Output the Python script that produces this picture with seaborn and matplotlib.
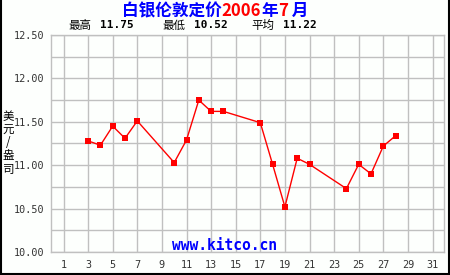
import matplotlib
matplotlib.use("Agg")
import matplotlib.pyplot as plt
import seaborn as sns
import pandas as pd
from matplotlib.lines import Line2D

days = [3, 4, 5, 6, 7, 10, 11, 12, 13, 14, 17, 18, 19, 20, 21, 24, 25, 26, 27, 28]
prices = [11.28, 11.23, 11.45, 11.31, 11.51, 11.03, 11.29, 11.75, 11.62, 11.62,
          11.49, 11.01, 10.52, 11.08, 11.01, 10.73, 11.01, 10.90, 11.22, 11.34]
x_ticks = list(range(1, 32, 2))
y_ticks = [10.00, 10.50, 11.00, 11.50, 12.00, 12.50]
stats_labels = ["最高", "最低", "平均"]
stats_values = ["11.75", "10.52", "11.22"]

df = pd.DataFrame({"day": days, "price": prices})

sns.set_theme(style="white")
plt.rcParams['font.family'] = ['Noto Sans CJK SC', 'DejaVu Sans']

W, H = 450, 275
fig = plt.figure(figsize=(4.5, 2.75), dpi=100)
fig.patch.set_facecolor("#FDFFFD")

left, right, top, bottom = 51.2, 444, 35, 252
ax = fig.add_axes([left / W, 1 - bottom / H, (right - left) / W, (bottom - top) / H])
ax.set_facecolor("#FDFFFD")

ppd = 12.3
ax.set_xlim(0, (right - left) / ppd)
ax.set_ylim(10.0, 12.5)

for xv in x_ticks:
    ax.axvline(xv, color="#C0C0C0", lw=1, zorder=1)
yv = 10.0
while yv <= 12.5001:
    ax.axhline(yv, color="#C0C0C0", lw=1, zorder=1)
    yv += 0.25

sns.lineplot(data=df, x="day", y="price", ax=ax, color="#FF0000", lw=1,
             marker="s", markersize=4.2, markeredgewidth=0, zorder=3)

ax.set_xticks(x_ticks)
ax.set_xticklabels([str(v) for v in x_ticks], family="DejaVu Sans Mono", fontsize=7.3, color="#333333")
ax.set_yticks(y_ticks)
ax.set_yticklabels([f"{v:.2f}" for v in y_ticks], family="DejaVu Sans Mono", fontsize=7.3, color="#333333")
ax.tick_params(axis="both", length=0)
ax.tick_params(axis="y", pad=5)
ax.tick_params(axis="x", pad=6)
ax.set_xlabel("")
ax.set_ylabel("")
for s in ax.spines.values():
    s.set_color("#C0C0C0")
    s.set_linewidth(1)

# Title with mixed colours
title_parts = [("白银伦敦定价", "#0000FF"), ("2006", "#FF0000"), ("年", "#0000FF"),
               ("7", "#FF0000"), (" 月", "#0000FF")]
renderer = fig.canvas.get_renderer()
xpos = 122
for txt, col in title_parts:
    t = fig.text(xpos / W, 1 - 11 / H, txt, color=col, fontsize=12, fontweight="bold",
                 va="center", ha="left", family=['Noto Sans CJK SC', 'DejaVu Sans'])
    bb = t.get_window_extent(renderer=renderer)
    xpos += bb.width

# Stats line
stat_x = [68, 162, 251]
for sx, lab, val in zip(stat_x, stats_labels, stats_values):
    fig.text(sx / W, 1 - 25 / H, lab, fontsize=8.3, va="center", ha="left", color="black")
    fig.text((sx + 32) / W, 1 - 25 / H, val, fontsize=8, va="center", ha="left",
             color="black", family="DejaVu Sans Mono", fontweight="bold")

# Y label stacked
fig.text(8.5 / W, 1 - 143 / H, "\n".join("美元/盎司"), fontsize=8.3, va="center", ha="center",
         linespacing=1.0, color="black")

# watermark
fig.text(225 / W, 1 - 245 / H, "www.kitco.cn", color="#0000FF", fontsize=10.5,
         fontweight="bold", family="DejaVu Sans Mono", va="center", ha="center")

# figure border (left, right, bottom)
fig.add_artist(Line2D([0.5 / W, 0.5 / W], [0, 1], color="black", lw=1.5, transform=fig.transFigure))
fig.add_artist(Line2D([449 / W, 449 / W], [0, 1], color="black", lw=1.5, transform=fig.transFigure))
fig.add_artist(Line2D([0, 1], [1.5 / H, 1.5 / H], color="black", lw=1.5, transform=fig.transFigure))

fig.savefig("out.png", dpi=100, facecolor=fig.get_facecolor())
